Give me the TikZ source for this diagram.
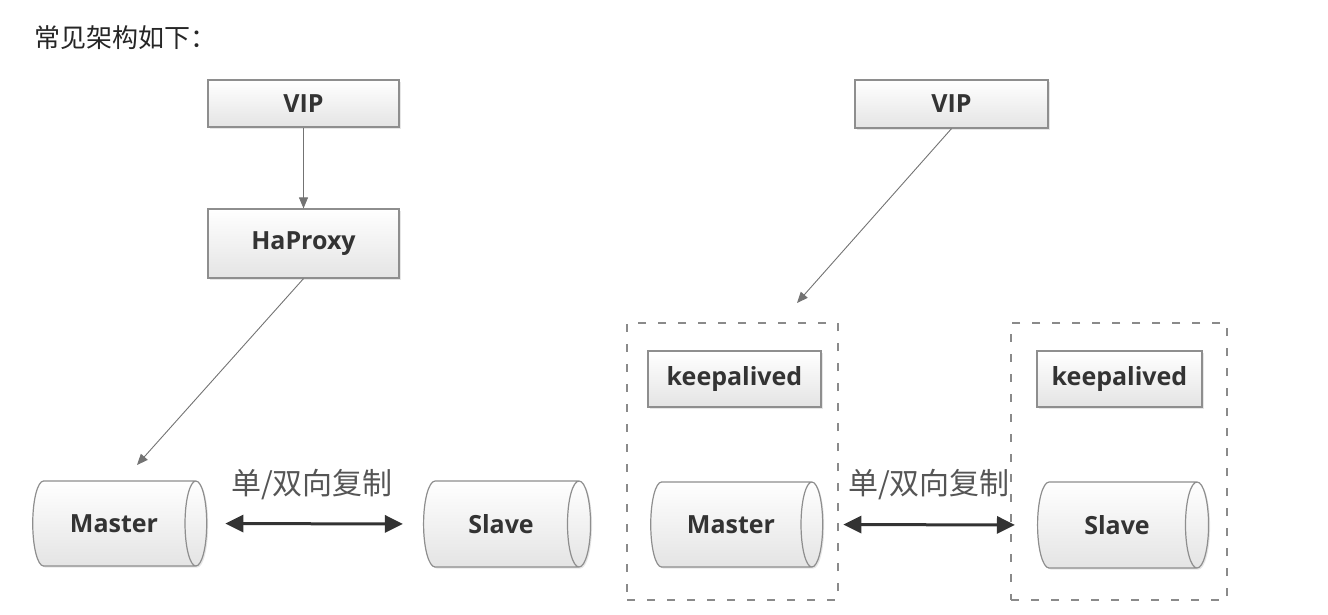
\documentclass[tikz,border=0pt]{standalone}
\usepackage{fontspec}
\setmainfont{Open Sans}
\newfontfamily\cjk{Noto Sans CJK SC}
\usetikzlibrary{shapes.geometric,arrows.meta,shadows}
\definecolor{edge}{HTML}{8E8E8E}
\definecolor{txt}{HTML}{333333}
\definecolor{fillbot}{HTML}{E4E4E4}
\definecolor{dashc}{HTML}{8A8A8A}
\definecolor{lbl}{HTML}{555555}
\begin{document}
\begin{tikzpicture}[x=1pt,y=-1pt,
  boxnode/.style={draw=edge, line width=1.2pt, rectangle, top color=white, bottom color=fillbot,
    drop shadow={shadow xshift=1.5pt, shadow yshift=-1.5pt, opacity=.2, fill=gray},
    font=\fontsize{25}{29}\selectfont\bfseries, text=txt, inner sep=0pt},
  dbnode/.style={draw=edge, line width=1.2pt, cylinder, shape border rotate=0, aspect=1.2,
    top color=white, bottom color=fillbot,
    drop shadow={shadow xshift=1.5pt, shadow yshift=-1.5pt, opacity=.2, fill=gray},
    font=\fontsize{25}{29}\selectfont\bfseries, text=txt, inner sep=0pt},
  grouping/.style={draw=dashc, line width=1.4pt, dash pattern=on 8pt off 12pt, inner sep=0pt},
  thinarrow/.style={draw=black!55, line width=0.9pt, -{Triangle[length=11pt,width=9pt]}},
  reparrow/.style={draw=black!80, line width=3pt, {Triangle[length=18pt,width=17pt]}-{Triangle[length=18pt,width=17pt]}},
  replabel/.style={font=\cjk\fontsize{30}{34}\selectfont, text=lbl, inner sep=0pt}
]
\useasboundingbox (0,0) rectangle (1328,614);

% title
\node[anchor=west, font=\cjk\fontsize{26}{30}\selectfont, text=black!85, inner sep=0pt] (title) at (34,38) {常见架构如下：};

% left architecture
\node[boxnode, minimum width=191pt, minimum height=47pt] (vipL) at (303.5,103.5) {VIP};
\node[boxnode, minimum width=191pt, minimum height=69pt] (hap) at (303.5,243.5) {HaProxy};
\node[dbnode, minimum height=174pt, minimum width=85pt] (mL) at (114,523.5) {Master};
\node[dbnode, minimum height=167pt, minimum width=86pt] (sL) at (501,524) {Slave};
\coordinate (mLtip) at (137,465);
\draw[thinarrow] (vipL) -- (hap);
\draw[thinarrow] (hap.south) -- (mLtip);
\draw[reparrow, shorten <=18pt, shorten >=20pt] (mL.east) -- (sL.west);
\node[replabel] (lblL) at (312,485) {单/双向复制};

% right architecture
\node[grouping, minimum width=211pt, minimum height=277pt] (grp1) at (732.5,461.5) {};
\node[grouping, minimum width=216pt, minimum height=277pt] (grp2) at (1119,461.5) {};
\node[boxnode, minimum width=193pt, minimum height=48pt] (vipR) at (951.5,104) {VIP};
\node[boxnode, minimum width=173pt, minimum height=56pt] (ka1) at (734.5,379) {keepalived};
\node[boxnode, minimum width=165pt, minimum height=56pt] (ka2) at (1119.5,379) {keepalived};
\node[dbnode, minimum height=172pt, minimum width=85pt] (mR) at (731,524.5) {Master};
\node[dbnode, minimum height=171pt, minimum width=86pt] (sR) at (1117,525) {Slave};
\coordinate (grp1tip) at (797,303);
\draw[thinarrow] (vipR.south) -- (grp1tip);
\draw[reparrow, shorten <=20pt, shorten >=22pt] (mR.east) -- (sR.west);
\node[replabel] (lblR) at (929,485) {单/双向复制};
\end{tikzpicture}
\end{document}
